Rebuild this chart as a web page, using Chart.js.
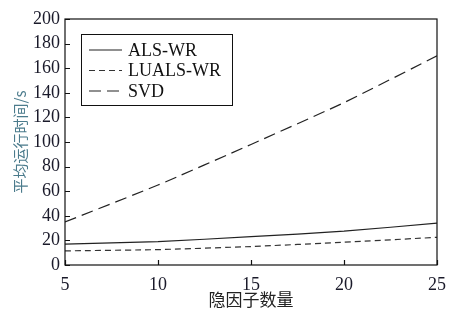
<!DOCTYPE html>
<html>
<head>
<meta charset="utf-8">
<script src="https://cdn.jsdelivr.net/npm/chart.js@4/dist/chart.umd.min.js"></script>
<style>
  html, body { margin: 0; padding: 0; background: #fff; }
  #wrap { width: 473px; height: 328px; }
</style>
</head>
<body>
<div id="wrap"><canvas id="lineChart" width="473" height="328"></canvas></div>
<script>
const factors = [5, 10, 15, 20, 25];
const alsWr = [17, 19, 23, 27.5, 34];
const luAlsWr = [11.5, 12.5, 15, 18.5, 22.5];
const svd = [35, 65, 98, 132, 170];
const seriesNames = ['ALS-WR', 'LUALS-WR', 'SVD'];

const serif = '"Liberation Serif", "Times New Roman", serif';
const cjk = '"Noto Sans CJK SC", "Liberation Serif", serif';

// frame, inward ticks and boxed legend
const framePlugin = {
  id: 'frame',
  afterDraw(chart) {
    const { ctx, chartArea: a, scales } = chart;
    ctx.save();
    ctx.strokeStyle = '#111';
    ctx.lineWidth = 1.2;
    ctx.setLineDash([]);
    ctx.strokeRect(a.left, a.top, a.right - a.left, a.bottom - a.top);
    ctx.beginPath();
    scales.y.ticks.forEach(t => {
      const y = Math.round(scales.y.getPixelForValue(t.value)) + 0.5;
      ctx.moveTo(a.left, y); ctx.lineTo(a.left + 5, y);
    });
    scales.x.ticks.forEach(t => {
      const x = Math.round(scales.x.getPixelForValue(t.value)) + 0.5;
      ctx.moveTo(x, a.bottom); ctx.lineTo(x, a.bottom - 5);
    });
    ctx.stroke();

    // legend
    const bx = 81, by = 34, bw = 151, bh = 71;
    ctx.lineWidth = 1;
    ctx.strokeRect(bx + 0.5, by + 0.5, bw, bh);
    ctx.font = '18px ' + serif;
    ctx.fillStyle = '#111';
    ctx.textBaseline = 'middle';
    chart.data.datasets.forEach((ds, i) => {
      const y = by + 16 + i * 20.5;
      ctx.strokeStyle = ds.borderColor;
      ctx.lineWidth = ds.borderWidth;
      ctx.setLineDash(ds.borderDash || []);
      ctx.beginPath();
      ctx.moveTo(bx + 8, y); ctx.lineTo(bx + 41, y);
      ctx.stroke();
      ctx.fillText(ds.label, bx + 47, y + 1);
    });
    ctx.restore();
  }
};

new Chart(document.getElementById('lineChart').getContext('2d'), {
  type: 'line',
  data: {
    datasets: [
      { label: seriesNames[0], data: factors.map((x, i) => ({ x, y: alsWr[i] })),
        borderColor: '#222', borderWidth: 1.2, pointRadius: 0, tension: 0.15 },
      { label: seriesNames[1], data: factors.map((x, i) => ({ x, y: luAlsWr[i] })),
        borderColor: '#333', borderWidth: 1.2, borderDash: [6, 4], pointRadius: 0, tension: 0.15 },
      { label: seriesNames[2], data: factors.map((x, i) => ({ x, y: svd[i] })),
        borderColor: '#222', borderWidth: 1.2, borderDash: [12, 6], pointRadius: 0, tension: 0.15 }
    ]
  },
  options: {
    responsive: false,
    animation: false,
    layout: { padding: { left: 0, top: 19, right: 36, bottom: 0 } },
    plugins: { legend: { display: false }, tooltip: { enabled: false } },
    scales: {
      x: {
        type: 'linear', min: 5, max: 25,
        grid: { display: false, drawTicks: false },
        border: { display: false },
        ticks: { stepSize: 5, padding: 9, color: '#1a1a2a', font: { family: serif, size: 18 } },
        title: { display: true, text: '隐因子数量', color: '#222', padding: { top: 0, bottom: 18 },
                 font: { family: cjk, size: 17 } },
        afterFit(scale) { scale.height = 63; }
      },
      y: {
        min: 0, max: 200,
        grid: { display: false, drawTicks: false },
        border: { display: false },
        ticks: { stepSize: 20, padding: 5, color: '#1a1a2a', font: { family: serif, size: 18 } },
        title: { display: true, text: '平均运行时间/s', color: '#4b7b8c', padding: { top: 11, bottom: 0 },
                 font: { family: cjk, size: 15 } },
        afterFit(scale) { scale.width = 65; }
      }
    }
  },
  plugins: [framePlugin]
});
</script>
</body>
</html>
